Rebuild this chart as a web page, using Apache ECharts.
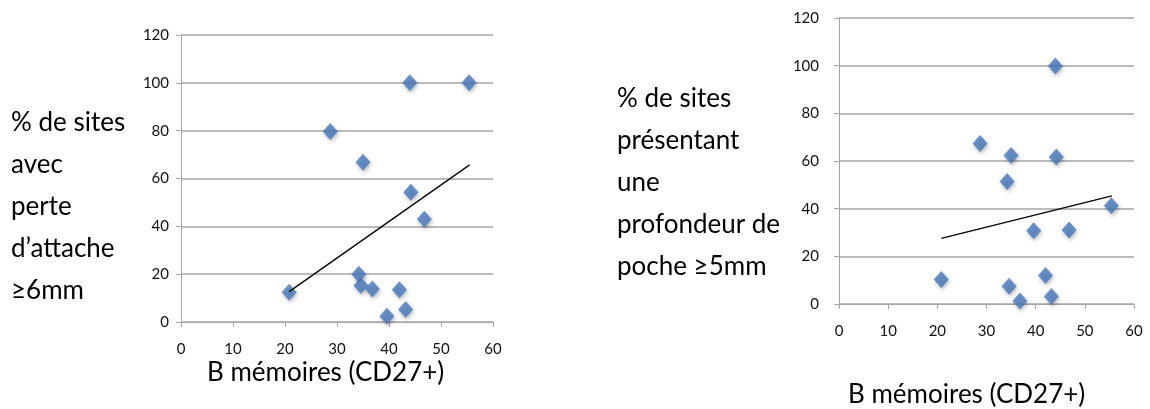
<!DOCTYPE html>
<html>
<head>
<meta charset="utf-8">
<script src="https://cdn.jsdelivr.net/npm/echarts@6/dist/echarts.min.js"></script>
<style>
  html, body { margin: 0; padding: 0; background: #fff; }
  #chart { width: 1150px; height: 409px; }
</style>
</head>
<body>
<div id="chart"></div>
<script>
  // B mémoires (CD27+) values, shared by both panels
  var bMemoires = [20.8, 28.7, 34.2, 34.6, 35.0, 36.8, 39.6, 42.0, 43.2, 44.0, 44.2, 46.8, 55.4];
  // % de sites avec perte d'attache >= 6mm
  var perteAttache = [12.4, 79.6, 20.0, 15.3, 66.8, 13.8, 2.4, 13.5, 5.2, 100, 54.3, 43.0, 100];
  // % de sites présentant une profondeur de poche >= 5mm
  var profondeurPoche = [10.3, 67.3, 51.4, 7.5, 62.3, 1.3, 30.7, 12.0, 3.1, 99.9, 61.7, 31.0, 41.2];
  // trend lines (start / end)
  var trendX = [20.8, 55.5];
  var trendPerte = [12.7, 65.7];
  var trendPoche = [27.5, 45.4];
  var xTicks = [0, 60, 10];
  var yTicks = [0, 120, 20];

  var font = 'Lato, "Open Sans", sans-serif';
  var gridColor = '#a6a6a6';
  var pointColor = '#4779bd';

  function pairs(xs, ys) {
    return xs.map(function (x, i) { return [x, ys[i]]; });
  }

  function xAxisOpt(gridIndex) {
    return {
      gridIndex: gridIndex, type: 'value',
      min: xTicks[0], max: xTicks[1], interval: xTicks[2],
      axisLine: { show: true, lineStyle: { color: gridColor, width: 1 } },
      axisTick: { show: true, length: 5, lineStyle: { color: gridColor } },
      axisLabel: { color: '#111', fontSize: 15, fontFamily: font, margin: 20 },
      splitLine: { show: false }
    };
  }
  function yAxisOpt(gridIndex, margin) {
    return {
      gridIndex: gridIndex, type: 'value',
      min: yTicks[0], max: yTicks[1], interval: yTicks[2],
      axisLine: { show: true, lineStyle: { color: gridColor, width: 1 } },
      axisTick: { show: true, length: 5, lineStyle: { color: gridColor } },
      axisLabel: { color: '#111', fontSize: 15, fontFamily: font, margin: margin },
      splitLine: { show: true, lineStyle: { color: gridColor, width: 1.5 } }
    };
  }
  function scatter(idx, data) {
    return {
      type: 'scatter', xAxisIndex: idx, yAxisIndex: idx,
      symbol: 'diamond', symbolSize: [15, 17],
      itemStyle: {
        color: pointColor,
        shadowColor: 'rgba(0,0,0,0.35)', shadowBlur: 4, shadowOffsetX: 1, shadowOffsetY: 2
      },
      data: data, z: 3
    };
  }
  function trend(idx, ys) {
    return {
      type: 'line', xAxisIndex: idx, yAxisIndex: idx,
      symbol: 'none', silent: true,
      lineStyle: { color: '#000', width: 1.3 },
      data: pairs(trendX, ys), z: 4
    };
  }
  function label(left, top, text) {
    return {
      type: 'text', left: left, top: top,
      style: { text: text, font: '26px ' + font, fill: '#000', lineHeight: 42 }
    };
  }

  var chart = echarts.init(document.getElementById('chart'));
  chart.setOption({
    animation: false,
    backgroundColor: '#fff',
    grid: [
      { left: 181, top: 35, width: 312, height: 287 },
      { left: 839, top: 18, width: 295, height: 286 }
    ],
    xAxis: [xAxisOpt(0), xAxisOpt(1)],
    yAxis: [yAxisOpt(0, 12), yAxisOpt(1, 20)],
    series: [
      scatter(0, pairs(bMemoires, perteAttache)),
      trend(0, trendPerte),
      scatter(1, pairs(bMemoires, profondeurPoche)),
      trend(1, trendPoche)
    ],
    graphic: [
      label(11, 102, '% de sites\navec\nperte\nd\u2019attache\n\u22656mm'),
      label(617, 78, '% de sites\npr\u00e9sentant\nune\nprofondeur de\npoche \u22655mm'),
      label(207, 352, 'B m\u00e9moires (CD27+)'),
      label(848, 374, 'B m\u00e9moires (CD27+)')
    ]
  });
</script>
</body>
</html>
